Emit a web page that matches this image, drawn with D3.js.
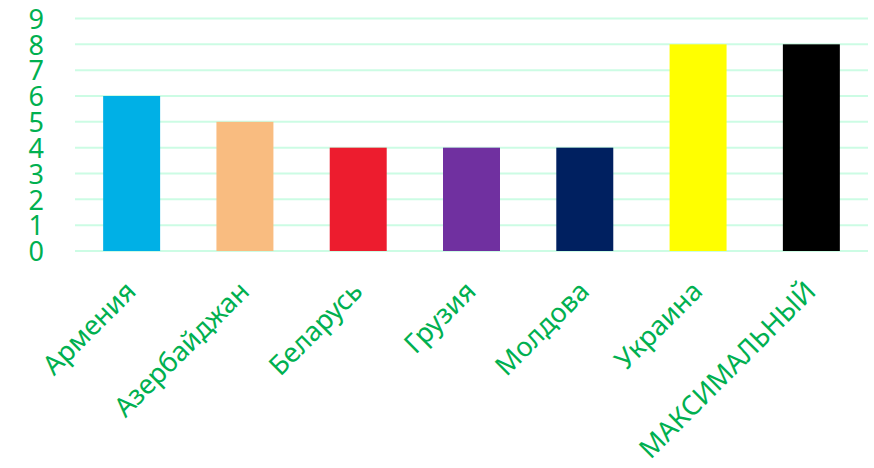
<!DOCTYPE html>
<html><head><meta charset="utf-8">
<script src="https://cdn.jsdelivr.net/npm/d3@7"></script>
<style>body{margin:0;background:#fff}</style>
</head><body>
<svg id="chart" width="874" height="468"></svg>
<script>
const categories = ["Армения","Азербайджан","Беларусь","Грузия","Молдова","Украина","МАКСИМАЛЬНЫЙ"];
const values = [6,5,4,4,4,8,8];
const barColors = ["#00B0E6","#F9BC80","#ED1C2E","#7030A0","#002060","#FFFF00","#000000"];
const yTicks = [0,1,2,3,4,5,6,7,8,9];

const svg = d3.select("#chart");
const font = "'Noto Sans', sans-serif";
const green = "#00B050";
const x = d3.scaleBand().domain(categories).range([75, 868]).paddingInner(0.497).paddingOuter(0.2485);
const y = d3.scaleLinear().domain([0, 9]).range([251, 18.5]);

// gridlines
svg.append("g").selectAll("line").data(yTicks).join("line")
  .attr("x1", 75).attr("x2", 868)
  .attr("y1", d => y(d)).attr("y2", d => y(d))
  .attr("stroke", "#CCFCE4").attr("stroke-width", 2);

// bars
svg.append("g").selectAll("rect").data(values).join("rect")
  .attr("x", (d,i) => x(categories[i]))
  .attr("width", x.bandwidth())
  .attr("y", d => y(d))
  .attr("height", d => y(0) - y(d))
  .attr("fill", (d,i) => barColors[i]);

// y axis labels
const yAxis = d3.axisLeft(y).tickValues(yTicks).tickSize(0).tickPadding(0).tickFormat(d3.format("d"));
const gy = svg.append("g").attr("transform", "translate(44,0)").call(yAxis);
gy.select(".domain").remove();
gy.selectAll("text").attr("fill", green).style("font-family", font).style("font-size", "27px").attr("dy", "0.36em");

// x axis labels
const xAxis = d3.axisBottom(x).tickSize(0).tickPadding(0);
const gx = svg.append("g").attr("transform", "translate(0,251)").call(xAxis);
gx.select(".domain").remove();
gx.selectAll("text")
  .attr("fill", green).style("font-family", font).style("font-size", "27px")
  .attr("text-anchor", "end").attr("dy", 0).attr("y", 0)
  .attr("transform", "translate(6,42) rotate(-45)");
</script>
</body></html>
